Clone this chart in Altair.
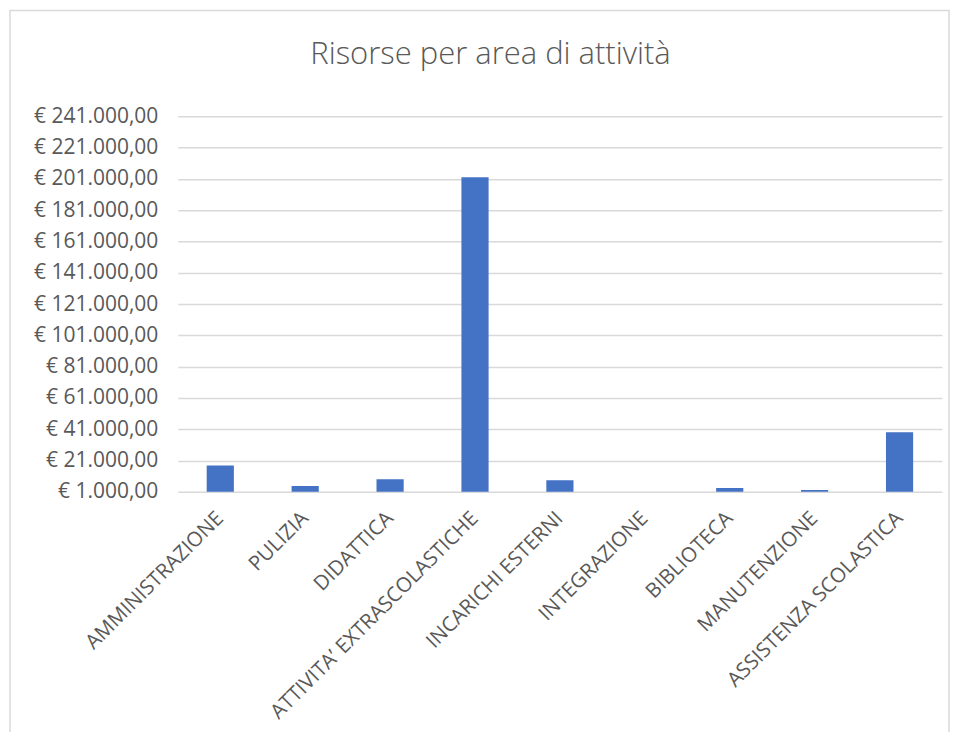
import altair as alt
import pandas as pd

categories = [
    "AMMINISTRAZIONE", "PULIZIA", "DIDATTICA", "ATTIVITA’ EXTRASCOLASTICHE",
    "INCARICHI ESTERNI", "INTEGRAZIONE", "BIBLIOTECA", "MANUTENZIONE",
    "ASSISTENZA SCOLASTICA",
]
values = [17900, 4750, 9100, 202000, 8500, 0, 3500, 2250, 39100]
y_ticks = list(range(1000, 241001, 20000))
title_text = ["Risorse per area di attività"]

df = pd.DataFrame({"area": categories, "valore": values})

GRAY = "#595959"
GRID = "#d9d9d9"
FONT = "Open Sans"

label_expr = ("'€ ' + replace(replace(replace(format(datum.value, ',.2f'), regexp(',', 'g'), 'X'), "
              "regexp('\\\\.', 'g'), ','), regexp('X', 'g'), '.')")

bars = alt.Chart(df).mark_bar(color="#4472C4", clip=True).encode(
    x=alt.X("area:N", sort=categories, title=None,
            scale=alt.Scale(paddingInner=0.68, paddingOuter=0.34),
            axis=alt.Axis(labelAngle=-45, labelFontSize=20.5, labelColor=GRAY,
                          labelFont=FONT, domain=False, ticks=False,
                          labelAlign="right", labelBaseline="middle",
                          labelLimit=0, labelPadding=23, grid=False)),
    y=alt.Y("valore:Q", title=None,
            scale=alt.Scale(domain=[1000, 241000], zero=False, nice=False),
            axis=alt.Axis(values=y_ticks, labelExpr=label_expr, labelFontSize=21,
                          labelColor=GRAY, labelFont=FONT, domain=False,
                          ticks=False, labelPadding=20, gridColor=GRID,
                          gridWidth=1.5)),
)

border = alt.Chart(pd.DataFrame({"k": [0]})).mark_rect(
    fill=None, stroke=GRID, strokeWidth=1.5, clip=False
).encode(
    x=alt.value(-168), x2=alt.value(772), y=alt.value(-106), y2=alt.value(660)
)

title = alt.Chart(pd.DataFrame({"t": title_text})).mark_text(
    font=FONT, fontSize=31, color=GRAY, align="center", baseline="alphabetic",
    fontWeight=300,
).encode(
    text="t:N", x=alt.value(313), y=alt.value(-52)
)

chart = alt.layer(border, bars, title).properties(
    width=765, height=376,
    autosize="none",
    padding={"left": 170, "top": 108, "right": 8, "bottom": 240},
).configure_view(stroke=None)

chart.save("out.html", embed_options={"renderer": "svg", "actions": False})
